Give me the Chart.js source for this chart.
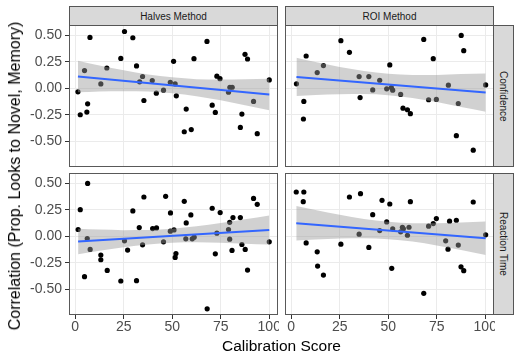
<!DOCTYPE html>
<html><head><meta charset="utf-8">
<script src="https://cdn.jsdelivr.net/npm/chart.js@4.4.0/dist/chart.umd.min.js"></script>
<style>
html,body{margin:0;padding:0;background:#fff;}
#wrap{position:relative;width:520px;height:360px;overflow:hidden;font-family:"Liberation Sans",Arial,sans-serif;}
canvas{position:absolute;}
.strip{position:absolute;background:#d9d9d9;border:1px solid #555;box-sizing:border-box;color:#1a1a1a;font-size:10px;display:flex;align-items:center;justify-content:center;white-space:nowrap;}
.vt{writing-mode:vertical-rl;}
.title{position:absolute;color:#000;font-size:15.5px;white-space:nowrap;}
</style></head>
<body><div id="wrap">
<canvas id="pTL" width="279" height="149" style="left:0;top:24px"></canvas>
<canvas id="pTR" width="216" height="149" style="left:279px;top:24px"></canvas>
<canvas id="pBL" width="279" height="163" style="left:0;top:172px"></canvas>
<canvas id="pBR" width="216" height="163" style="left:279px;top:172px"></canvas>
<div class="strip" id="sM0" style="left:69px;top:6px;width:209px;height:20px;"></div>
<div class="strip" id="sM1" style="left:285px;top:6px;width:209px;height:20px;"></div>
<div class="strip vt" id="sR0" style="left:493px;top:25px;width:21px;height:142px;"></div>
<div class="strip vt" id="sR1" style="left:493px;top:173px;width:21px;height:142px;"></div>
<div class="title" id="xTitle" style="left:281.5px;top:346px;transform:translate(-50%,-50%);"></div>
<div class="title" id="yTitle" style="left:14.5px;top:176px;font-size:16px;transform:translate(-50%,-50%) rotate(-90deg);"></div>
</div>
<script>
const xTickValues = [0, 25, 50, 75, 100];
const yTickValues = [-0.5, -0.25, 0, 0.25, 0.5];
const methods = ["Halves Method", "ROI Method"];
const measures = ["Confidence", "Reaction Time"];
const xAxisTitle = "Calibration Score";
const yAxisTitle = "Correlation (Prop. Looks to Novel, Memory)";

// Halves Method / Confidence
const halvesConfX = [1.4,2.6,4.8,6.4,6.0,7.6,13.2,16.3,23.5,25.4,29.7,31.6,33.2,34.7,35.4,39.7,41.8,45.5,49.0,50.7,51.5,52.1,56.2,57.2,59.8,61.2,67.9,70.6,72.2,73.0,74.6,79.0,79.7,80.9,85.1,85.9,87.5,88.8,91.9,93.8,100];
const halvesConfY = [-0.034,-0.25,0.166,-0.147,-0.225,0.478,0.04,0.19,0.28,0.534,0.475,0.21,0.06,0.11,-0.116,0.072,-0.047,-0.019,0.056,0.253,0.04,-0.072,-0.41,-0.197,-0.39,0.278,0.44,-0.16,-0.228,0.113,0.09,-0.038,0.009,0.009,-0.369,-0.244,0.319,0.275,-0.125,-0.428,0.078];
const halvesConfFitX = [1.4, 100];
const halvesConfFitY = [0.110, -0.059];
const halvesConfBandX = [1.4,12.5,25,37.5,50,62.5,75,87.5,100];
const halvesConfUpper = [0.259,0.213,0.168,0.128,0.102,0.085,0.082,0.084,0.090];
const halvesConfLower = [-0.039,-0.031,-0.028,-0.032,-0.048,-0.075,-0.114,-0.160,-0.208];

// ROI Method / Confidence
const roiConfX = [2.7,6.5,6.3,7.7,13.4,16.6,25.6,30.0,35.0,35.5,40.0,42.0,45.6,49.2,50.8,51.6,52.3,56.4,57.6,59.9,61.4,68.3,70.8,73.2,74.8,81.0,85.1,86.1,87.6,88.9,93.8,100.2];
const roiConfY = [0.041,-0.125,-0.29,0.303,0.147,0.213,0.447,0.338,0.109,-0.088,0.109,-0.016,0.075,-0.006,0.219,0.006,-0.019,-0.059,-0.188,-0.203,-0.24,0.459,-0.109,0.278,-0.106,0.028,-0.447,-0.144,0.497,0.353,-0.584,0.031];
const roiConfFitX = [2.7, 100.2];
const roiConfFitY = [0.106, -0.041];
const roiConfBandX = [2.7,12.5,25,37.5,50,62.5,75,87.5,100.2];
const roiConfUpper = [0.286,0.246,0.200,0.163,0.136,0.125,0.125,0.133,0.139];
const roiConfLower = [-0.074,-0.064,-0.056,-0.055,-0.066,-0.093,-0.131,-0.177,-0.221];

// Halves Method / Reaction Time
const halvesRtX = [1.5,2.6,4.8,6.4,6.2,7.7,13.2,13.2,16.5,23.5,25.4,27.0,29.7,31.6,33.0,34.7,35.4,39.9,41.9,45.5,46.6,49.1,49.0,50.9,51.9,51.5,56.2,57.2,57.0,59.6,60.3,61.3,68.0,70.6,72.2,73.0,74.7,79.0,79.6,79.6,80.8,81.3,85.1,85.9,87.6,88.8,91.9,93.8,100];
const halvesRtY = [0.063,0.25,-0.381,0.497,-0.022,-0.125,-0.178,-0.222,-0.322,-0.422,-0.044,-0.131,0.238,-0.419,0.081,-0.081,0.369,0.072,0.078,-0.053,0.375,0.219,0.047,0.059,-0.163,-0.2,0.328,0.125,-0.025,0.2,-0.025,-0.009,-0.684,0.263,-0.166,0.028,0.222,0.063,0.131,-0.028,-0.134,0.175,0.175,-0.078,-0.125,-0.319,0.356,0.3,-0.053];
const halvesRtFitX = [1.5, 100];
const halvesRtFitY = [-0.050, 0.059];
const halvesRtBandX = [1.5,12.5,25,37.5,50,62.5,75,87.5,100];
const halvesRtUpper = [0.070,0.062,0.057,0.058,0.070,0.093,0.124,0.160,0.196];
const halvesRtLower = [-0.170,-0.138,-0.105,-0.078,-0.062,-0.058,-0.062,-0.070,-0.078];

// ROI Method / Reaction Time
const roiRtX = [2.6,6.5,6.2,7.7,13.4,13.6,16.6,25.6,30.0,35.0,35.7,40.0,42.0,45.6,46.8,49.2,50.8,51.8,52.3,56.4,57.3,57.8,59.9,60.7,61.4,68.3,70.8,73.2,74.8,79.6,80.8,81.6,85.1,86.1,87.5,88.9,93.8,100.2];
const roiRtY = [0.416,0.416,0.325,-0.063,-0.147,-0.281,-0.366,-0.075,0.369,0.019,0.4,-0.106,0.203,0.053,0.338,0.134,0.303,-0.303,0.069,0.041,0.084,0.069,0.009,0.084,0.325,-0.538,0.094,0.119,0.166,-0.044,-0.122,0.141,0.15,-0.084,-0.288,-0.325,0.322,0.013];
const roiRtFitX = [2.6, 100.2];
const roiRtFitY = [0.122, -0.019];
const roiRtBandX = [2.6,12.5,25,37.5,50,62.5,75,87.5,100.2];
const roiRtUpper = [0.285,0.246,0.201,0.163,0.136,0.122,0.121,0.128,0.139];
const roiRtLower = [-0.041,-0.030,-0.021,-0.019,-0.028,-0.051,-0.087,-0.130,-0.177];

document.getElementById('sM0').textContent = methods[0];
document.getElementById('sM1').textContent = methods[1];
document.getElementById('sR0').textContent = measures[0];
document.getElementById('sR1').textContent = measures[1];
document.getElementById('xTitle').textContent = xAxisTitle;
document.getElementById('yTitle').textContent = yAxisTitle;

const FONT = '"Liberation Sans", Arial, sans-serif';
const zip = (xs, ys) => xs.map((x, i) => ({x: x, y: ys[i]}));

const borderPlugin = {
  id: 'panelBorder',
  afterDraw(chart) {
    const a = chart.chartArea, c = chart.ctx;
    c.save();
    c.strokeStyle = '#595959';
    c.lineWidth = 1;
    c.strokeRect(Math.round(a.left) + 0.5, Math.round(a.top) + 0.5,
                 Math.round(a.right - a.left) - 1, Math.round(a.bottom - a.top) - 1);
    c.restore();
  }
};

function panel(id, px, py, fx, fy, bx, bu, bl, showY, showX) {
  new Chart(document.getElementById(id), {
    type: 'scatter',
    data: { datasets: [
      { type: 'line', data: zip(fx, fy), borderColor: '#3366FF', borderWidth: 2,
        pointRadius: 0, fill: false, order: 1 },
      { type: 'line', data: zip(bx, bu), borderColor: 'rgba(0,0,0,0)', borderWidth: 1,
        pointRadius: 0, fill: '+1', backgroundColor: 'rgba(153,153,153,0.45)',
        cubicInterpolationMode: 'monotone', order: 2 },
      { type: 'line', data: zip(bx, bl), borderColor: 'rgba(0,0,0,0)', borderWidth: 1,
        pointRadius: 0, fill: false, cubicInterpolationMode: 'monotone', order: 2 },
      { data: zip(px, py), pointRadius: 2.6, pointBackgroundColor: '#000',
        backgroundColor: '#000', borderWidth: 0, pointBorderWidth: 0, order: 3 }
    ]},
    options: {
      responsive: false, animation: false, devicePixelRatio: 1,
      layout: { autoPadding: false, padding: { top: 1, right: 1, bottom: 0, left: 0 } },
      plugins: { legend: { display: false }, tooltip: { enabled: false } },
      scales: {
        x: {
          type: 'linear', min: -3.2, max: 104.5,
          afterBuildTicks: s => { s.ticks = xTickValues.map(v => ({ value: v })); },
          afterFit: s => { s.height = showX ? 20 : 6; s.paddingLeft = 0; s.paddingRight = 0; },
          ticks: { display: showX, padding: 0, color: '#4d4d4d', font: { family: FONT, size: 14 },
                   callback: v => String(v), maxRotation: 0, autoSkip: false },
          grid: { display: true, drawOnChartArea: true, color: '#ebebeb', lineWidth: 1,
                  drawTicks: showX, tickLength: 4, tickColor: '#333' },
          border: { display: false }
        },
        y: {
          type: 'linear', min: -0.742, max: 0.595,
          afterBuildTicks: s => { s.ticks = yTickValues.map(v => ({ value: v })); },
          afterFit: s => { s.width = showY ? 69 : 6; s.paddingTop = 0; s.paddingBottom = 0; },
          ticks: { display: showY, padding: 3, color: '#4d4d4d', font: { family: FONT, size: 14 },
                   callback: v => Number(v).toFixed(2), autoSkip: false },
          grid: { display: true, drawOnChartArea: true, color: '#ebebeb', lineWidth: 1,
                  drawTicks: showY, tickLength: 4, tickColor: '#333' },
          border: { display: false }
        }
      }
    },
    plugins: [borderPlugin]
  });
}

panel('pTL', halvesConfX, halvesConfY, halvesConfFitX, halvesConfFitY, halvesConfBandX, halvesConfUpper, halvesConfLower, true, false);
panel('pTR', roiConfX, roiConfY, roiConfFitX, roiConfFitY, roiConfBandX, roiConfUpper, roiConfLower, false, false);
panel('pBL', halvesRtX, halvesRtY, halvesRtFitX, halvesRtFitY, halvesRtBandX, halvesRtUpper, halvesRtLower, true, true);
panel('pBR', roiRtX, roiRtY, roiRtFitX, roiRtFitY, roiRtBandX, roiRtUpper, roiRtLower, false, true);
</script>
</body></html>
